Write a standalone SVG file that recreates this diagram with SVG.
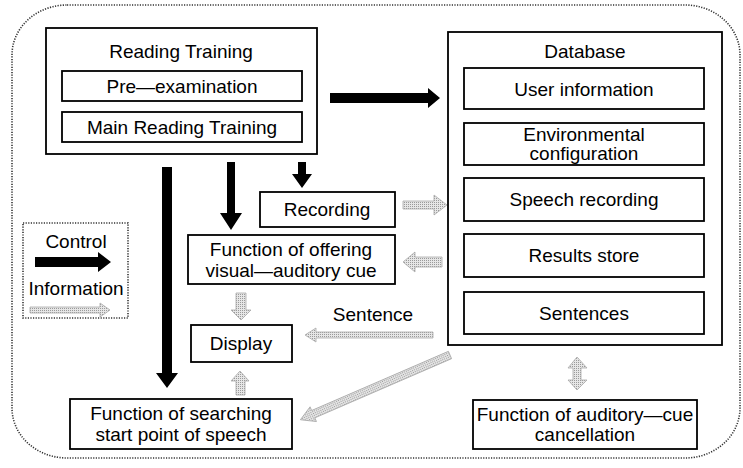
<svg xmlns="http://www.w3.org/2000/svg" width="743" height="468" viewBox="0 0 743 468">
<defs>
<pattern id="dots" width="2" height="2" patternUnits="userSpaceOnUse">
<rect width="2" height="2" fill="#e6e6e6"/>
<rect width="1" height="1" fill="#9a9a9a"/>
</pattern>
<style>
.box{fill:#fff;stroke:#000;stroke-width:1.8}
.t{font-family:"Liberation Sans",Arial,sans-serif;font-size:19px;fill:#000;text-anchor:middle}
.ctl{fill:#000}
.info{fill:url(#dots);stroke:#aaa;stroke-width:0.8}
.dot{fill:none;stroke:#333;stroke-width:1.6;stroke-dasharray:1.2 1.4}
</style>
</defs>
<rect class="dot" x="12" y="5" width="728" height="453" rx="55" ry="50"/>

<g id="reading-training">
<rect class="box" x="46" y="28" width="271" height="126"/>
<text class="t" x="181" y="58">Reading Training</text>
</g>
<g id="pre-examination">
<rect class="box" x="62" y="71" width="240" height="30"/>
<text class="t" x="182" y="93">Pre—examination</text>
</g>
<g id="main-reading-training">
<rect class="box" x="62" y="112" width="240" height="30"/>
<text class="t" x="182" y="134">Main Reading Training</text>
</g>
<g id="database">
<rect class="box" x="448" y="32" width="274" height="313"/>
<text class="t" x="585" y="58">Database</text>
</g>
<g id="user-information">
<rect class="box" x="464" y="68" width="240" height="41"/>
<text class="t" x="584" y="96">User information</text>
</g>
<g id="environmental-configuration">
<rect class="box" x="464" y="123" width="240" height="42"/>
<text class="t" x="584" y="141">Environmental</text>
<text class="t" x="584" y="160">configuration</text>
</g>
<g id="speech-recording">
<rect class="box" x="464" y="178" width="240" height="43"/>
<text class="t" x="584" y="206">Speech recording</text>
</g>
<g id="results-store">
<rect class="box" x="464" y="234" width="240" height="43"/>
<text class="t" x="584" y="262">Results store</text>
</g>
<g id="sentences">
<rect class="box" x="464" y="292" width="240" height="42"/>
<text class="t" x="584" y="320">Sentences</text>
</g>
<g id="recording">
<rect class="box" x="260" y="192" width="135" height="35"/>
<text class="t" x="327" y="216">Recording</text>
</g>
<g id="visual-auditory-cue">
<rect class="box" x="188" y="235" width="207" height="49"/>
<text class="t" x="291" y="256">Function of offering</text>
<text class="t" x="291" y="277">visual—auditory cue</text>
</g>
<g id="display">
<rect class="box" x="191" y="325" width="101" height="37"/>
<text class="t" x="241" y="350">Display</text>
</g>
<g id="searching-start-point">
<rect class="box" x="70" y="399" width="222" height="50"/>
<text class="t" x="181" y="420">Function of searching</text>
<text class="t" x="181" y="441">start point of speech</text>
</g>
<g id="auditory-cue-cancellation">
<rect class="box" x="473" y="400" width="224" height="49"/>
<text class="t" x="585" y="421">Function of auditory—cue</text>
<text class="t" x="585" y="441">cancellation</text>
</g>
<g id="legend">
<rect class="dot" x="23" y="223" width="105" height="95"/>
<text class="t" x="76" y="248">Control</text>
<polygon class="ctl" points="35,257 98,257 98,252 111,262 98,272 98,267 35,267"/>
<text class="t" x="76" y="295">Information</text>
<polygon class="info" points="30,307 100,307 100,303 110,310 100,317 100,313 30,313"/>
</g>
<g id="sentence-label">
<text class="t" x="373" y="321">Sentence</text>
</g>

<g id="connectors">
<polygon class="ctl" points="330,93 428,93 428,88 440,98 428,108 428,103 330,103"/>
<polygon class="ctl" points="162,167 172,167 172,373 178,373 167,388 156,373 162,373"/>
<polygon class="ctl" points="227,162 235,162 235,213 242,213 231,230 220,213 227,213"/>
<polygon class="ctl" points="298,162 306,162 306,174 312,174 302,188 292,174 298,174"/>
<polygon class="info" points="403,201 434,201 434,195 447,205 434,215 434,209 403,209"/>
<polygon class="info" points="403,262 415,252 415,257 442,257 442,267 415,267 415,272"/>
<polygon class="info" points="305,335 316,328 316,332 433,332 433,338 316,338 316,342"/>
<polygon class="info" transform="translate(450,355) rotate(156.6)" points="0,-4 149,-4 149,-8 163,0 149,8 149,4 0,4"/>
<polygon class="info" points="236,293 246,293 246,310 251,310 241,320 231,310 236,310"/>
<polygon class="info" points="240,371 249,381 245,381 245,395 236,395 236,381 231,381"/>
<polygon class="info" points="577,357 587,368 581,368 581,380 587,380 577,390 568,380 573,380 573,368 568,368"/>
</g>
</svg>
